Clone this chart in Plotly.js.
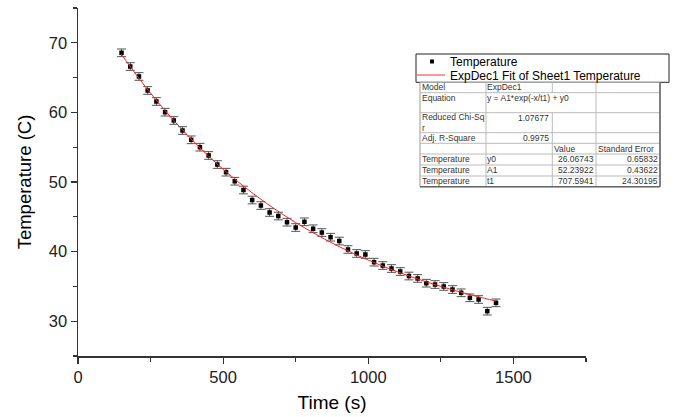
<!DOCTYPE html>
<html>
<head>
<meta charset="utf-8">
<script src="https://cdn.plot.ly/plotly-3.0.1.min.js"></script>
<style>html,body{margin:0;padding:0;background:#fff}#chart{width:684px;height:417px}</style>
</head>
<body>
<div id="chart"></div>
<script>
// ---- data ----
const timeS = [150,180,210,240,270,300,330,360,390,420,450,480,510,540,570,600,630,660,690,720,750,780,810,840,870,900,930,960,990,1020,1050,1080,1110,1140,1170,1200,1230,1260,1290,1320,1350,1380,1410,1440];
const tempC = [68.56,66.59,65.16,63.15,61.57,60.03,58.84,57.40,56.06,55.00,53.81,52.51,51.41,50.11,48.85,47.41,46.62,45.62,45.11,44.22,43.46,44.28,43.28,42.74,42.07,41.52,40.30,39.73,39.58,38.48,38.00,37.57,37.14,36.49,36.14,35.46,35.27,34.99,34.55,34.08,33.36,33.12,31.44,32.64];
const tempErr = [0.55,0.55,0.55,0.55,0.55,0.55,0.55,0.55,0.55,0.55,0.55,0.55,0.55,0.55,0.55,0.55,0.55,0.55,0.55,0.55,0.55,0.55,0.55,0.55,0.55,0.55,0.55,0.55,0.55,0.55,0.55,0.55,0.55,0.55,0.55,0.55,0.55,0.55,0.55,0.55,0.55,0.55,0.55,0.55];
const fitTime = [150,200,250,300,350,400,450,500,550,600,650,700,750,800,850,900,950,1000,1050,1100,1150,1200,1250,1300,1350,1400,1440];
const fitTemp = [68.33,65.45,62.76,60.26,57.93,55.75,53.72,51.84,50.08,48.44,46.92,45.49,44.17,42.94,41.78,40.71,39.71,38.78,37.91,37.11,36.35,35.65,35.00,34.39,33.82,33.29,32.90];
const xTickVals = [0,500,1000,1500];
const yTickVals = [30,40,50,60,70];
const legendLabels = ['Temperature','ExpDec1 Fit of Sheet1 Temperature'];
const tableCol1 = ['Model','Equation','Reduced Chi-Sq<br>r','Adj. R-Square','','Temperature','Temperature','Temperature'];
const tableCol2 = ['ExpDec1','y = A1*exp(-x/t1) + y0','','','','y0','A1','t1'];
const tableStat = ['','','1.07677','0.9975','','','',''];
const tableValue = ['','','','','Value','26.06743','52.23922','707.5941'];
const tableErr = ['','','','','Standard Error','0.65832','0.43622','24.30195'];

// ---- layout geometry (pixels) ----
const W=684,H=417,ML=78,MR=98,MT=8,MB=61;
const PW=W-ML-MR, PH=H-MT-MB;
const px=p=>(p-ML)/PW, py=p=>(H-MB-p)/PH;
const FONT='Arial, "Liberation Sans", sans-serif';

const shapes=[], ann=[];
// legend box
shapes.push({type:'rect',xref:'paper',yref:'paper',x0:px(416),x1:px(669),y0:py(54),y1:py(82.3),line:{color:'#222',width:1},fillcolor:'#fff'});
shapes.push({type:'rect',xref:'paper',yref:'paper',x0:px(430),x1:px(434),y0:py(59.5),y1:py(63.5),line:{width:0},fillcolor:'#000'});
shapes.push({type:'line',xref:'paper',yref:'paper',x0:px(417),x1:px(445),y0:py(75),y1:py(75),line:{color:'#ff3030',width:1}});
ann.push({xref:'paper',yref:'paper',x:px(449),y:py(61.5),xanchor:'left',yanchor:'middle',showarrow:false,borderpad:0,text:legendLabels[0],font:{family:FONT,size:12,color:'#000'}});
ann.push({xref:'paper',yref:'paper',x:px(449),y:py(75.5),xanchor:'left',yanchor:'middle',showarrow:false,borderpad:0,text:legendLabels[1],font:{family:FONT,size:12,color:'#000'}});

// stats table
const rowB=[82.3,92.7,112.7,132.7,143.3,154,165,176,186.7];
const colB=[420,486,552.3,596,660];
const rowText=[87.3,97.7,122,138.3,148.7,159.3,170.3,181.3];
shapes.push({type:'rect',xref:'paper',yref:'paper',x0:px(colB[0]),x1:px(colB[4]),y0:py(rowB[0]),y1:py(rowB[8]),line:{color:'#999',width:1},fillcolor:'#fff'});
for(let i=1;i<rowB.length-1;i++){
  shapes.push({type:'line',xref:'paper',yref:'paper',x0:px(colB[0]),x1:px(colB[4]),y0:py(rowB[i]),y1:py(rowB[i]),line:{color:'#bbb',width:1}});
}
for(let j=1;j<colB.length-1;j++){
  for(let i=0;i<rowB.length-1;i++){
    if(j===2 && i===1) continue;
    shapes.push({type:'line',xref:'paper',yref:'paper',x0:px(colB[j]),x1:px(colB[j]),y0:py(rowB[i]),y1:py(rowB[i+1]),line:{color:'#bbb',width:1}});
  }
}
shapes.push({type:'line',xref:'paper',yref:'paper',x0:px(colB[4]),x1:px(colB[4]),y0:py(rowB[0]),y1:py(rowB[8]),line:{color:'#666',width:1.5}});
shapes.push({type:'line',xref:'paper',yref:'paper',x0:px(colB[0]),x1:px(colB[4]),y0:py(rowB[8]),y1:py(rowB[8]),line:{color:'#666',width:1.5}});
const tf={family:FONT,size:8.5,color:'#333'};
for(let i=0;i<tableCol1.length;i++){
  if(tableCol1[i]) ann.push({xref:'paper',yref:'paper',x:px(421),y:py(rowText[i]),xanchor:'left',yanchor:'middle',showarrow:false,borderpad:0,text:tableCol1[i],font:tf,align:'left'});
  if(tableCol2[i]) ann.push({xref:'paper',yref:'paper',x:px(486),y:py(rowText[i]),xanchor:'left',yanchor:'middle',showarrow:false,borderpad:0,text:tableCol2[i],font:tf});
  if(tableStat[i]) ann.push({xref:'paper',yref:'paper',x:px(550),y:py(i===2?118.3:rowText[i]),xanchor:'right',yanchor:'middle',showarrow:false,borderpad:0,text:tableStat[i],font:tf});
  if(tableValue[i]) ann.push({xref:'paper',yref:'paper',x:(i===4?px(553):px(595)),y:py(rowText[i]),xanchor:(i===4?'left':'right'),yanchor:'middle',showarrow:false,borderpad:0,text:tableValue[i],font:tf});
  if(tableErr[i]) ann.push({xref:'paper',yref:'paper',x:(i===4?px(597):px(659)),y:py(rowText[i]),xanchor:(i===4?'left':'right'),yanchor:'middle',showarrow:false,borderpad:0,text:tableErr[i],font:tf});
}

const traces=[
  {x:timeS,y:tempC,type:'scatter',mode:'markers',name:legendLabels[0],
   marker:{symbol:'square',size:4.5,color:'#000'},
   error_y:{type:'data',array:tempErr,visible:true,color:'#555',thickness:1,width:4.5}},
  {x:fitTime,y:fitTemp,type:'scatter',mode:'lines',name:legendLabels[1],
   line:{color:'#ff2020',width:1,shape:'spline'}}
];

const axisCommon={showgrid:false,zeroline:false,showline:true,linecolor:'#333',linewidth:1.5,
  ticks:'outside',ticklen:6,tickwidth:1.2,tickcolor:'#333',
  tickfont:{family:FONT,size:16.5,color:'#222'}};

const layout={
  width:W,height:H,margin:{l:ML,r:MR,t:MT,b:MB},
  paper_bgcolor:'#fff',plot_bgcolor:'#fff',showlegend:false,
  font:{family:FONT},
  xaxis:Object.assign({},axisCommon,{range:[0,1750],tickvals:xTickVals,ticktext:xTickVals.map(String),
    minor:{dtick:250,tick0:0,ticks:'outside',ticklen:4,tickcolor:'#333',tickwidth:1.2},
    title:{text:'Time (s)',font:{family:FONT,size:19,color:'#000'},standoff:10}}),
  yaxis:Object.assign({},axisCommon,{range:[25,75],tickvals:yTickVals,ticktext:yTickVals.map(String),
    minor:{dtick:5,tick0:0,ticks:'outside',ticklen:4,tickcolor:'#333',tickwidth:1.2},
    title:{text:'Temperature (C)',font:{family:FONT,size:18.5,color:'#000'},standoff:12}}),
  shapes:shapes,annotations:ann
};
Plotly.newPlot('chart',traces,layout,{staticPlot:true,displayModeBar:false});
</script>
</body>
</html>
